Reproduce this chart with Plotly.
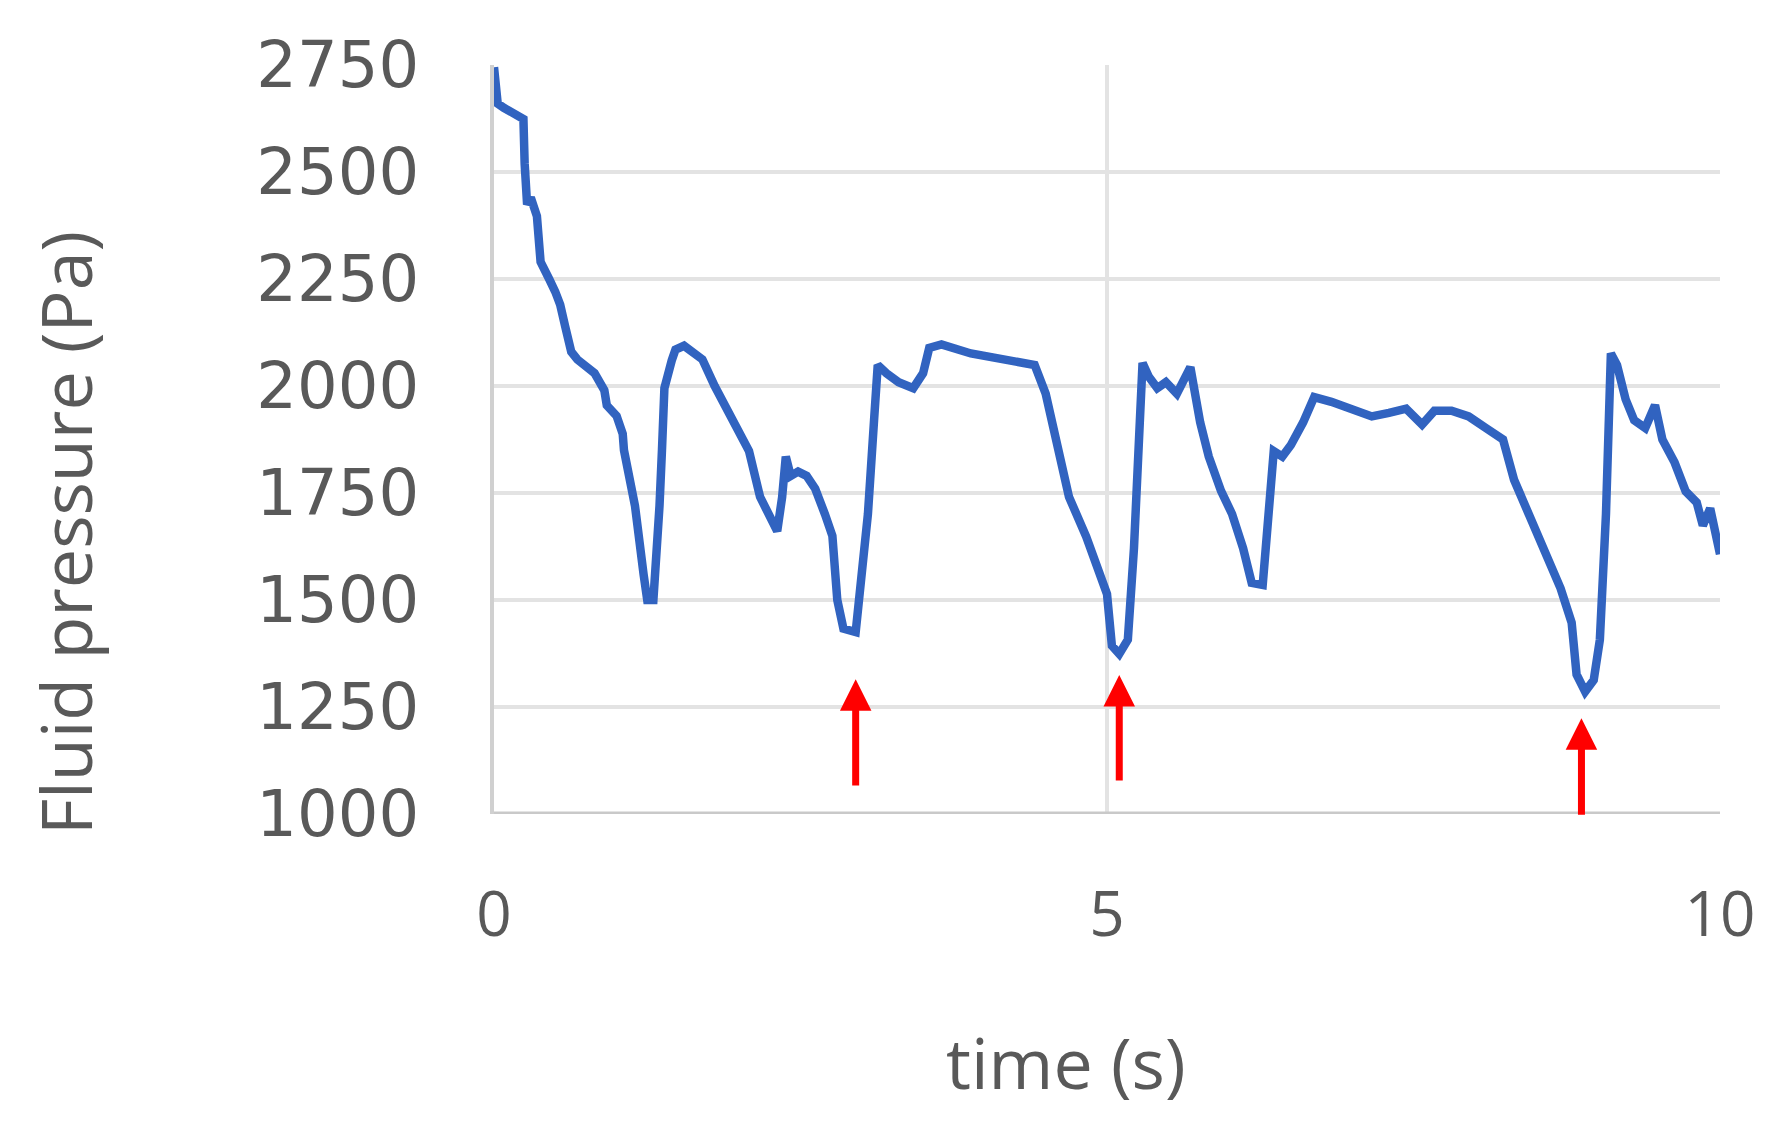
import plotly.graph_objects as go

# time (s) and fluid pressure (Pa)
time_s = [0.00, 0.01, 0.03, 0.08, 0.24, 0.25, 0.27, 0.30, 0.35, 0.38, 0.40, 0.45, 0.50, 0.54,
          0.58, 0.63, 0.68, 0.82, 0.90, 0.92, 1.00, 1.05, 1.06, 1.15, 1.22, 1.25, 1.30, 1.33,
          1.35, 1.37, 1.39, 1.45, 1.48, 1.55, 1.62, 1.70, 1.80, 1.93, 2.08, 2.17, 2.28, 2.31,
          2.35, 2.38, 2.42, 2.48, 2.55, 2.62, 2.70, 2.76, 2.80, 2.85, 2.95, 3.00, 3.05, 3.10,
          3.13, 3.20, 3.30, 3.42, 3.50, 3.55, 3.65, 3.89, 4.17, 4.41, 4.50, 4.60, 4.69, 4.83,
          4.94, 5.00, 5.04, 5.10, 5.17, 5.22, 5.29, 5.34, 5.41, 5.48, 5.57, 5.68, 5.76, 5.83,
          5.93, 6.02, 6.11, 6.18, 6.27, 6.32, 6.36, 6.43, 6.50, 6.60, 6.69, 6.83, 7.02, 7.16,
          7.30, 7.44, 7.57, 7.67, 7.81, 7.95, 8.09, 8.23, 8.32, 8.42, 8.51, 8.60, 8.70, 8.79,
          8.83, 8.90, 8.97, 9.02, 9.07, 9.11, 9.16, 9.23, 9.30, 9.39, 9.47, 9.53, 9.63, 9.72,
          9.81, 9.86, 9.92, 10.00]
pressure = [2745, 2690, 2660, 2650, 2624, 2520, 2424, 2440, 2397, 2290, 2276, 2250, 2220, 2190,
            2140, 2080, 2062, 2030, 1990, 1955, 1930, 1888, 1850, 1720, 1560, 1500, 1500, 1600,
            1720, 1850, 1995, 2060, 2085, 2094, 2080, 2062, 2000, 1928, 1848, 1741, 1680, 1661,
            1740, 1835, 1790, 1800, 1790, 1760, 1700, 1650, 1500, 1433, 1425, 1570, 1701, 1920,
            2049, 2030, 2009, 1995, 2030, 2089, 2097, 2076, 2062, 2049, 1982, 1862, 1741, 1648,
            1554, 1514, 1393, 1374, 1407, 1621, 2054, 2022, 1995, 2009, 1982, 2044, 1915, 1835,
            1755, 1701, 1621, 1540, 1535, 1701, 1848, 1835, 1862, 1915, 1974, 1963, 1942, 1929,
            1937, 1947, 1910, 1942, 1942, 1929, 1902, 1875, 1781, 1714, 1661, 1594, 1527, 1447,
            1326, 1286, 1313, 1407, 1701, 2076, 2049, 1969, 1920, 1902, 1955, 1875, 1821, 1754,
            1728, 1674, 1714, 1607]

# red arrows marking the minima: x position, head and tail pressure
arrow_t = [2.95, 5.10, 8.87]
arrow_head = [1315, 1325, 1224]
arrow_tail = [1063, 1075, 995]

y_ticks = [1000, 1250, 1500, 1750, 2000, 2250, 2500, 2750]
x_ticks = [0, 5, 10]

grey = "#595959"
grid = "#e3e3e3"

fig = go.Figure()
fig.add_trace(go.Scatter(x=time_s, y=pressure, mode="lines",
                         line=dict(color="#3163c0", width=8.5), showlegend=False))

for t, h, tl in zip(arrow_t, arrow_head, arrow_tail):
    fig.add_annotation(x=t, y=h, ax=t, ay=tl, xref="x", yref="y", axref="x", ayref="y",
                       showarrow=True, arrowhead=2, arrowsize=0.9, arrowwidth=7,
                       arrowcolor="#ff0000", text="")

fig.update_xaxes(range=[0, 10], tickvals=x_ticks, showgrid=True, gridcolor=grid, gridwidth=4,
                 zeroline=False, showline=False, ticks="", ticklabelstandoff=59, automargin=False,
                 tickfont=dict(family="Liberation Sans Narrow, Open Sans", size=62, color=grey))
fig.update_yaxes(range=[1000, 2750], tickvals=y_ticks, showgrid=True, gridcolor=grid, gridwidth=4,
                 zeroline=False, showline=True, linecolor="#d0d0d0", linewidth=4,
                 ticks="", ticklabelstandoff=58, automargin=False,
                 tickfont=dict(family="DejaVu Sans", size=64, color=grey))

# bottom axis line drawn as a darker gridline
fig.add_hline(y=1000, line=dict(color="#c9c9c9", width=5))

# axis titles sit off-centre in the original, so place them as annotations
fig.add_annotation(text="time (s)", x=0.4666, y=-0.331, xref="paper", yref="paper",
                   showarrow=False, xanchor="center", yanchor="middle",
                   font=dict(family="Liberation Sans Narrow, Open Sans", size=70, color=grey))
fig.add_annotation(text="Fluid pressure (Pa)", x=-0.350, y=0.375, xref="paper", yref="paper",
                   showarrow=False, textangle=-90, xanchor="center", yanchor="middle",
                   font=dict(family="Open Sans", size=70, color=grey))

# the page body adds an 8px offset, so margins are shifted to compensate
fig.update_layout(width=1790, height=1130, plot_bgcolor="white", paper_bgcolor="white",
                  margin=dict(l=486, r=78, t=57, b=324))

fig.write_html("out.html")
